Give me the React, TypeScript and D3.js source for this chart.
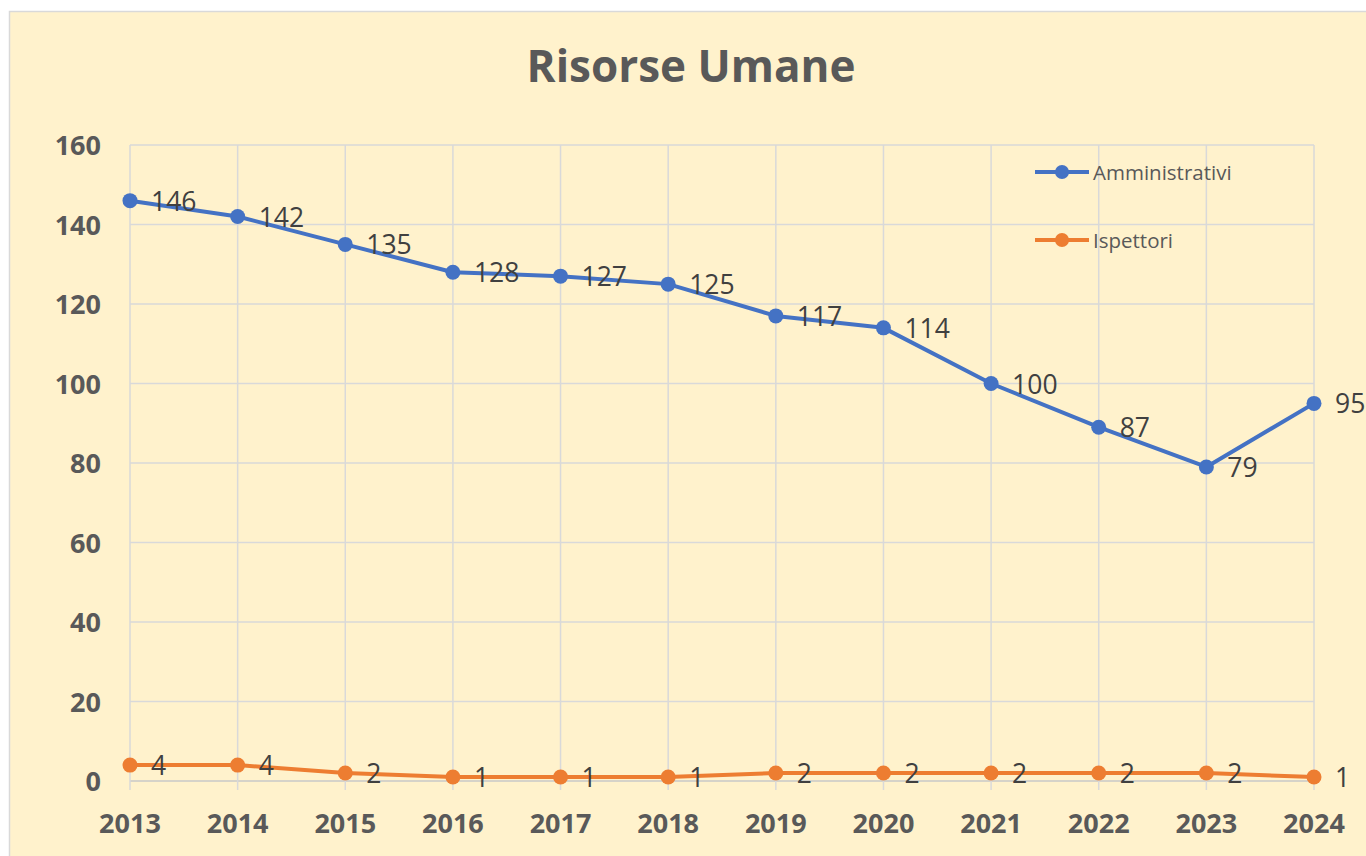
import React from "react";
import * as d3 from "d3";

const years = ["2013","2014","2015","2016","2017","2018","2019","2020","2021","2022","2023","2024"];
const amministrativi = [146, 142, 135, 128, 127, 125, 117, 114, 100, 89, 79, 95];
const amministrativiLabels = ["146","142","135","128","127","125","117","114","100","87","79","95"];
const ispettori = [4, 4, 2, 1, 1, 1, 2, 2, 2, 2, 2, 1];
const ispettoriLabels = ["4","4","2","1","1","1","2","2","2","2","2","1"];
const yTicks = [0, 20, 40, 60, 80, 100, 120, 140, 160];
const seriesNames = ["Amministrativi", "Ispettori"];

const W = 1366, H = 856;
const BLUE = "#4472C4", ORANGE = "#ED7D31";
const GRID = "#D9D9D9";
const FONT = "'Open Sans', 'Noto Sans', sans-serif";

export default function App() {
  const x = d3.scalePoint<string>().domain(years).range([130, 1314]);
  const y = d3.scaleLinear().domain([0, 160]).range([781, 145]);
  const line = d3.line<number>().x((_, i) => x(years[i])!).y(d => y(d));

  const series = [
    { name: seriesNames[0], vals: amministrativi, labels: amministrativiLabels, color: BLUE },
    { name: seriesNames[1], vals: ispettori, labels: ispettoriLabels, color: ORANGE },
  ];
  const legendY = [172, 240];

  return (
    <svg width={W} height={H} style={{ position: "absolute", left: 0, top: 0 }} fontFamily={FONT}>
      <rect x={0} y={0} width={W} height={H} fill="#ffffff" />
      <rect x={9.5} y={11.5} width={W} height={H} fill="#FFF2CC" stroke={GRID} strokeWidth={1.5} />
      <text x={691} y={82} textAnchor="middle" fontSize={44} fontWeight={700} fill="#595959">Risorse Umane</text>

      {/* grid */}
      {yTicks.map(t => (
        <line key={"h" + t} x1={130} x2={1314} y1={y(t)} y2={y(t)} stroke={t === 0 ? "#C8C8C8" : GRID} strokeWidth={1.5} />
      ))}
      {years.map(yr => (
        <line key={"v" + yr} x1={x(yr)} x2={x(yr)} y1={y(160)} y2={790} stroke={GRID} strokeWidth={1.5} />
      ))}

      {/* y axis labels */}
      {yTicks.map(t => (
        <text key={"yl" + t} x={101} y={y(t) + 10} textAnchor="end" fontSize={27} fontWeight={700} fill="#595959">{t}</text>
      ))}
      {/* x axis labels */}
      {years.map(yr => (
        <text key={"xl" + yr} x={x(yr)} y={833} textAnchor="middle" fontSize={27} fontWeight={700} fill="#595959">{yr}</text>
      ))}

      {/* series */}
      {series.map(s => (
        <g key={s.name}>
          <path d={line(s.vals)!} fill="none" stroke={s.color} strokeWidth={4} strokeLinejoin="round" strokeLinecap="round" />
          {s.vals.map((v, i) => (
            <circle key={i} cx={x(years[i])} cy={y(v)} r={7.5} fill={s.color} />
          ))}
          {s.vals.map((v, i) => (
            <text key={"l" + i} x={x(years[i])! + 21} y={y(v) + 10} fontSize={26.5} fill="#404040">{s.labels[i]}</text>
          ))}
        </g>
      ))}

      {/* legend */}
      {series.map((s, i) => (
        <g key={"lg" + s.name}>
          <line x1={1035} x2={1089} y1={legendY[i]} y2={legendY[i]} stroke={s.color} strokeWidth={4} />
          <circle cx={1062} cy={legendY[i]} r={7} fill={s.color} />
          <text x={1093} y={legendY[i] + 7.5} fontSize={20.5} fill="#595959">{s.name}</text>
        </g>
      ))}
    </svg>
  );
}
